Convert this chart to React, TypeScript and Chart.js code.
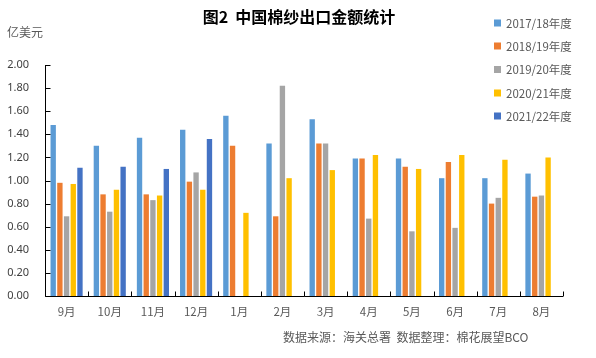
import React, { useEffect, useRef } from "react";
import { Chart, registerables } from "chart.js";

Chart.register(...registerables);

const months = ["9月", "10月", "11月", "12月", "1月", "2月", "3月", "4月", "5月", "6月", "7月", "8月"];
const seriesNames = ["2017/18年度", "2018/19年度", "2019/20年度", "2020/21年度", "2021/22年度"];
const seriesColors = ["#5B9BD5", "#ED7D31", "#A5A5A5", "#FFC000", "#4472C4"];
const s1718 = [1.48, 1.30, 1.37, 1.44, 1.56, 1.32, 1.53, 1.19, 1.19, 1.02, 1.02, 1.06];
const s1819 = [0.98, 0.88, 0.88, 0.99, 1.30, 0.69, 1.32, 1.19, 1.12, 1.16, 0.80, 0.86];
const s1920 = [0.69, 0.73, 0.83, 1.07, null, 1.82, 1.32, 0.67, 0.56, 0.59, 0.85, 0.87];
const s2021 = [0.97, 0.92, 0.87, 0.92, 0.72, 1.02, 1.09, 1.22, 1.10, 1.22, 1.18, 1.20];
const s2122 = [1.11, 1.12, 1.10, 1.36, null, null, null, null, null, null, null, null];
const seriesValues = [s1718, s1819, s1920, s2021, s2122];

const titleText = "图2  中国棉纱出口金额统计";
const unitText = "亿美元";
const sourceText = "数据来源：海关总署  数据整理：棉花展望BCO";

const FONT = "'Noto Sans CJK SC', 'Noto Sans', sans-serif";
const TEXT = "#595959";

const decor = {
  id: "decor",
  afterDraw(chart: any) {
    const { ctx, chartArea: ca, scales } = chart;
    const xs = scales.x;
    const ys = scales.y;
    ctx.save();
    // axes
    ctx.strokeStyle = "#000";
    ctx.lineWidth = 1;
    ctx.beginPath();
    const lx = Math.round(ca.left) + 0.5;
    const by = Math.round(ca.bottom) + 0.5;
    ctx.moveTo(lx, ca.top);
    ctx.lineTo(lx, by);
    ctx.lineTo(ca.right, by);
    ys.ticks.forEach((t: any) => {
      const py = Math.round(ys.getPixelForValue(t.value)) + 0.5;
      ctx.moveTo(lx, py);
      ctx.lineTo(lx + 5, py);
    });
    for (let i = 0; i <= months.length; i++) {
      const px = Math.round(xs.getPixelForValue(i - 0.5)) + 0.5;
      ctx.moveTo(px, by);
      ctx.lineTo(px, by - 5);
    }
    ctx.stroke();

    // title
    ctx.fillStyle = "#000";
    ctx.font = `bold 16px ${FONT}`;
    ctx.textAlign = "center";
    ctx.textBaseline = "middle";
    ctx.fillText(titleText, 299, 17);

    // unit
    ctx.fillStyle = TEXT;
    ctx.font = `12px ${FONT}`;
    ctx.textAlign = "left";
    ctx.fillText(unitText, 7, 32);

    // legend
    ctx.font = `11.5px ${FONT}`;
    const ly = [23, 46, 69.5, 93, 116];
    chart.data.datasets.forEach((ds: any, i: number) => {
      ctx.fillStyle = ds.backgroundColor;
      ctx.fillRect(494, ly[i] - 3.5, 7, 7);
      ctx.fillStyle = TEXT;
      ctx.fillText(ds.label, 506, ly[i] + 0.5);
    });

    // source
    ctx.font = `12px ${FONT}`;
    ctx.fillText(sourceText, 283, 337);
    ctx.restore();
  },
};

export default function App() {
  const ref = useRef<HTMLCanvasElement>(null);
  useEffect(() => {
    if (!ref.current) return;
    const chart = new Chart(ref.current, {
      type: "bar",
      data: {
        labels: months,
        datasets: seriesNames.map((name, i) => ({
          label: name,
          data: seriesValues[i],
          backgroundColor: seriesColors[i],
          borderWidth: 0,
          categoryPercentage: 0.775,
          barPercentage: 0.8,
        })),
      },
      options: {
        animation: false,
        responsive: false,
        layout: { padding: { top: 65, right: 33, left: 0, bottom: 0 } },
        plugins: { legend: { display: false }, title: { display: false }, tooltip: { enabled: false } },
        scales: {
          x: {
            grid: { display: false },
            border: { display: false },
            ticks: { color: TEXT, font: { family: FONT, size: 11.5 }, padding: 1, maxRotation: 0, autoSkip: false },
            afterFit: (s: any) => { s.height = 62; },
          },
          y: {
            min: 0,
            max: 2,
            grid: { display: false },
            border: { display: false },
            ticks: {
              stepSize: 0.2,
              color: "#404040",
              font: { family: "'Noto Sans', sans-serif", size: 11 },
              padding: 8,
              callback: (v: any) => Number(v).toFixed(2),
            },
            afterFit: (s: any) => { s.width = 45; },
          },
        },
      },
      plugins: [decor],
    });
    return () => chart.destroy();
  }, []);
  return (
    <div style={{ position: "fixed", left: 0, top: 0, width: 596, height: 358, background: "#fff" }}>
      <canvas ref={ref} width={596} height={358} style={{ width: 596, height: 358 }} />
    </div>
  );
}
